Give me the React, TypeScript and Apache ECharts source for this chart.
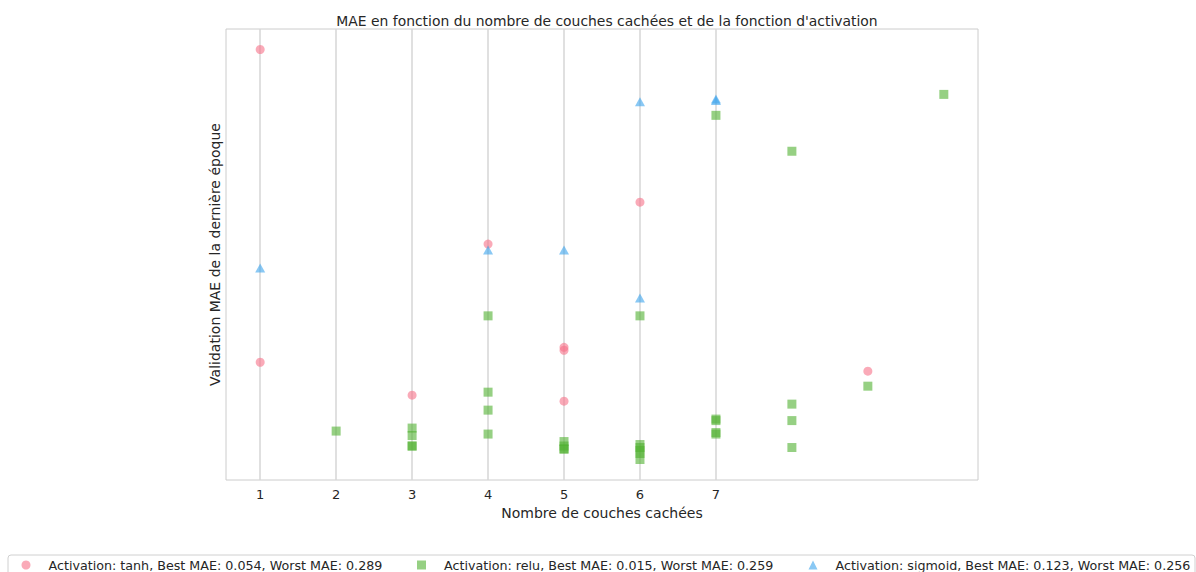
import React, { useEffect, useRef } from "react";
import * as echarts from "echarts";

const xTicks = [1, 2, 3, 4, 5, 6, 7];

const tanhLayers = [1, 1, 3, 4, 5, 5, 5, 6, 9];
const tanhMae = [0.289, 0.080, 0.058, 0.159, 0.090, 0.088, 0.054, 0.187, 0.074];

const reluLayers = [2, 3, 3, 3, 3, 4, 4, 4, 4, 5, 5, 5, 5, 6, 6, 6, 6, 6, 6, 7, 7, 7, 7, 7, 8, 8, 8, 8, 9, 10];
const reluMae = [0.034, 0.036, 0.031, 0.024, 0.024, 0.111, 0.060, 0.048, 0.032, 0.027, 0.024, 0.022, 0.022, 0.111, 0.025, 0.023, 0.021, 0.019, 0.015, 0.245, 0.042, 0.041, 0.033, 0.032, 0.221, 0.052, 0.041, 0.023, 0.064, 0.259];

const sigLayers = [1, 4, 5, 6, 6, 7, 7];
const sigMae = [0.143, 0.155, 0.155, 0.254, 0.123, 0.256, 0.255];

const seriesNames = [
  "Activation: tanh, Best MAE: 0.054, Worst MAE: 0.289",
  "Activation: relu, Best MAE: 0.015, Worst MAE: 0.259",
  "Activation: sigmoid, Best MAE: 0.123, Worst MAE: 0.256",
];
const colors = ["#f77189", "#50b131", "#3ba3ec"];

const pairs = (xs: number[], ys: number[]) => xs.map((x, i) => [x, ys[i]]);

const FONT = "DejaVu Sans";
const TEXT = "#262626";

export default function App() {
  const ref = useRef<HTMLDivElement>(null);
  useEffect(() => {
    if (!ref.current) return;
    const chart = echarts.init(ref.current, null, { renderer: "svg" });
    const legendBase = {
      top: 558.5,
      padding: 0,
      itemWidth: 9,
      itemHeight: 9,
      itemGap: 0,
      textStyle: { color: TEXT, fontFamily: FONT, fontSize: 12.7, padding: [0, 0, 0, 13] },
    };
    chart.setOption({
      animation: false,
      backgroundColor: "#ffffff",
      title: {
        text: "MAE en fonction du nombre de couches cachées et de la fonction d'activation",
        left: 602,
        top: 9,
        textAlign: "center",
        textStyle: { color: TEXT, fontFamily: FONT, fontSize: 13.9, fontWeight: "normal" },
      },
      graphic: [
        {
          type: "rect",
          shape: { x: 8, y: 555, width: 1187, height: 40, r: 3 },
          style: { fill: "rgba(255,255,255,0.8)", stroke: "#d0d0d0", lineWidth: 1 },
          z: -1,
        },
      ],
      legend: [
        { ...legendBase, left: 21.5, data: [seriesNames[0]] },
        { ...legendBase, left: 417, data: [seriesNames[1]] },
        { ...legendBase, left: 808.5, data: [seriesNames[2]] },
      ],
      grid: {
        left: 226,
        right: 218,
        top: 29,
        bottom: 92,
        show: true,
        borderColor: "#cccccc",
        borderWidth: 1,
        containLabel: false,
      },
      xAxis: {
        type: "value",
        min: 0.55,
        max: 10.45,
        name: "Nombre de couches cachées",
        nameLocation: "middle",
        nameGap: 20,
        nameTextStyle: { color: TEXT, fontFamily: FONT, fontSize: 14 },
        axisLine: { show: false },
        axisTick: { show: false, customValues: xTicks },
        axisLabel: { color: TEXT, fontFamily: FONT, fontSize: 13, margin: 8, customValues: xTicks },
        splitLine: { show: true, lineStyle: { color: "#d6d6d6", width: 1.5 } },
      },
      yAxis: {
        type: "value",
        min: 0.0013,
        max: 0.3027,
        name: "Validation MAE de la dernière époque",
        nameLocation: "middle",
        nameGap: 4,
        nameTextStyle: { color: TEXT, fontFamily: FONT, fontSize: 14 },
        axisLine: { show: false },
        axisTick: { show: false },
        axisLabel: { show: false },
        splitLine: { show: false },
      },
      series: [
        {
          name: seriesNames[0],
          type: "scatter",
          symbol: "circle",
          symbolSize: 9,
          itemStyle: { color: colors[0], opacity: 0.6 },
          data: pairs(tanhLayers, tanhMae),
        },
        {
          name: seriesNames[1],
          type: "scatter",
          symbol: "rect",
          symbolSize: 9,
          itemStyle: { color: colors[1], opacity: 0.6 },
          data: pairs(reluLayers, reluMae),
        },
        {
          name: seriesNames[2],
          type: "scatter",
          symbol: "triangle",
          symbolSize: [10, 9],
          itemStyle: { color: colors[2], opacity: 0.6 },
          data: pairs(sigLayers, sigMae),
        },
      ],
    });
    return () => chart.dispose();
  }, []);
  return <div ref={ref} style={{ width: 1196, height: 572, position: "absolute", left: 0, top: 0 }} />;
}
